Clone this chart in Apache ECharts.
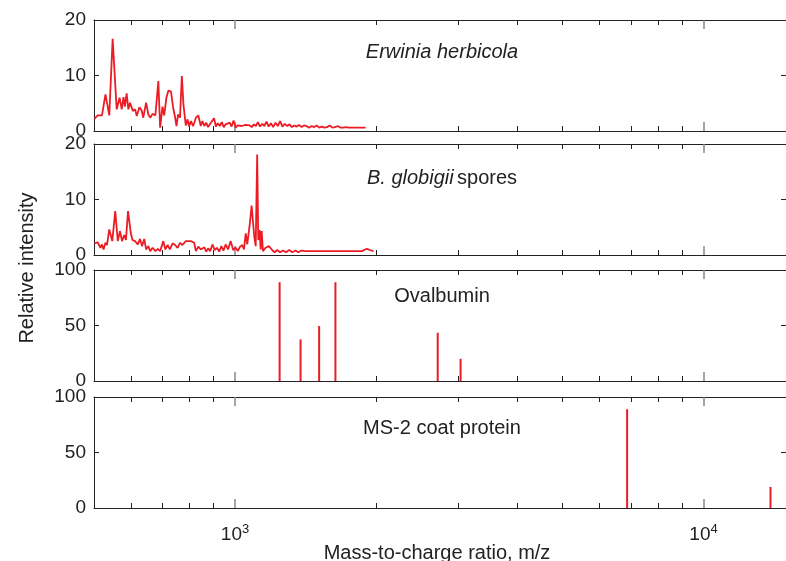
<!DOCTYPE html>
<html><head><meta charset="utf-8">
<script src="https://cdn.jsdelivr.net/npm/echarts@6/dist/echarts.min.js"></script>
<style>html,body{margin:0;padding:0;background:#fff}#c{width:786px;height:561px}</style>
</head><body><div id="c"></div>
<script>
// ---- data ----
const panelTitles = ['Erwinia herbicola', 'B. globigii spores', 'Ovalbumin', 'MS-2 coat protein'];
const yAxisTitle = 'Relative intensity';
const xAxisTitle = 'Mass-to-charge ratio, m/z';

const erwiniaMz = [501,509,520,529,539,548,559,567,573,578,
  582,587,592,597,605,612,617,625,632,637,
  646,653,659,667,676,686,692,700,706,714,
  721,730,738,744,750,756,763,770,776,785,
  792,798,805,814,825,835,845,
  852,860,868,876,885,893,902,910,919,928,
  937,946,955,964,974,983,993,1003,1013,1023,
  1033,1043,1054,1064,1075,1086,1097,1108,1119,1131,
  1143,1155,1167,1180,1193,1206,1220,1234,1248,1262,
  1277,1292,1307,1322,1338,1354,1370,1387,1404,1421,
  1439,1457,1475,1494,1513,1532,1552,1572,1593,1614,
  1635,1657,1680,1703,1726,1750,1775,1800,1825,1850,
  1875,1900];
const erwiniaInt = [2.2,2.8,2.8,6.6,2.8,16.6,3.9,6.0,3.9,6.1,
  4.4,6.8,3.9,5.1,3.6,3.9,2.7,4.3,3.7,2.4,
  5.1,3.0,2.4,3.1,2.8,9.0,0.6,4.4,2.8,6.1,
  7.3,7.1,4.1,2.7,0.9,3.0,2.4,9.9,4.8,1.0,
  2.1,0.8,1.8,0.9,2.4,2.8,0.9,
  1.8,0.9,1.5,0.7,1.3,1.0,2.3,0.8,1.4,0.9,
  1.6,0.7,1.2,0.9,1.5,0.8,1.9,0.6,1.0,0.7,
  0.9,0.6,1.1,0.8,1.0,0.7,1.2,0.9,1.6,0.8,
  1.3,0.9,1.7,0.8,1.4,0.7,1.5,0.9,1.8,0.8,
  1.3,0.9,1.2,0.7,1.0,0.8,1.1,0.7,1.0,0.9,
  0.6,0.9,0.7,1.0,0.6,0.8,0.6,0.7,1.0,0.6,
  0.7,0.9,0.6,0.6,0.7,0.6,0.6,0.6,0.6,0.6,
  0.6,0.6];

const globigiiMz = [501,509,516,520,524,529,533,539,547,555,
  562,568,574,580,585,591,599,604,612,620,
  627,633,640,646,653,659,667,676,684,692,
  703,710,718,726,736,745,754,763,772,785,
  805,818,825,835,845,
  852,860,868,876,885,895,905,915,925,935,
  945,955,966,979,991,1003,1014,1025,1036,1045,
  1054,1062,1076,1085,1092,1099,1107,1115,1121,1129,1134,1140,1147,1162,1181,1200,
  1215,1230,1248,1265,1285,1305,1325,1345,1365,1385,
  1414,1500,1600,1700,1800,1866,1890,1912,1940,1975];
const globigiiInt = [2.1,2.3,1.3,1.9,1.0,2.2,1.8,4.6,2.5,7.9,
  2.5,4.3,2.5,3.6,2.7,7.9,4.0,2.7,2.5,1.9,
  2.9,1.6,2.9,1.0,1.6,0.7,1.3,0.7,1.1,0.7,
  2.5,1.0,1.8,1.0,2.1,1.8,1.3,2.2,1.8,2.5,
  2.5,2.2,0.7,1.5,1.0,
  0.8,1.4,0.6,1.2,0.7,1.9,0.9,1.3,0.6,1.6,
  0.8,1.9,1.0,2.5,0.9,1.3,0.7,1.5,1.8,1.0,
  3.9,1.9,5.8,8.9,6.1,3.4,1.6,18.1,2.7,4.5,1.0,4.3,0.7,1.3,1.6,0.9,
  0.5,0.9,0.5,0.8,0.5,0.9,0.5,0.8,0.5,0.8,
  0.7,0.7,0.7,0.7,0.7,0.7,0.95,1.1,0.9,0.7];

const ovalbuminMz = [1245,1380,1512,1638,2708,3030];
const ovalbuminInt = [89,37.5,49.5,89,43.5,20];

const ms2Mz = [6870,13900];
const ms2Int = [89,19];

const yMaxes = [20,20,100,100];
const yIntervals = [10,10,50,50];
const xMinMz = 500, xMaxMz = 15000;
const minorTickMz = [600,700,800,900,2000,3000,4000,5000,6000,7000,8000,9000];
const majorTickMz = [1000,10000];

// ---- layout ----
const gridTops = [20,144,270,397];
const gridH = 111, gridLeft = 94, gridW = 696;
const RED = '#ec1c24';
const INK = '#222';
const FONT = '"Liberation Sans", Arial, Helvetica, sans-serif';

const L = v => Math.log10(v);
const grids = [], xAxes = [], yAxes = [], series = [];

gridTops.forEach((t, i) => {
  grids.push({left: gridLeft, top: t, width: gridW, height: gridH});
  const base = {gridIndex: i, type: 'value', min: L(xMinMz), max: L(xMaxMz),
    splitLine: {show: false}};
  ['bottom', 'top'].forEach(pos => {
    xAxes.push(Object.assign({}, base, {position: pos,
      axisLine: {show: true, lineStyle: {color: INK, width: 1}},
      axisTick: {show: true, inside: true, length: 5, lineStyle: {color: INK},
        customValues: minorTickMz.map(L)},
      axisLabel: {show: false}}));
    const isLabelAxis = (pos === 'bottom' && i === gridTops.length - 1);
    xAxes.push(Object.assign({}, base, {position: pos,
      axisLine: {show: false},
      axisTick: {show: true, inside: true, length: 9, lineStyle: {color: '#888', width: 1.5},
        customValues: majorTickMz.map(L)},
      axisLabel: isLabelAxis ? {show: true, customValues: majorTickMz.map(L), margin: 11,
        formatter: v => '{b|10}{s|' + Math.round(v) + '}',
        rich: {b: {fontSize: 19, fontFamily: FONT, color: INK, padding: [6,0,0,0]},
               s: {fontSize: 13, fontFamily: FONT, color: INK, padding: [0,0,5,0]}}}
        : {show: false}}));
  });
  ['left', 'right'].forEach(pos => {
    yAxes.push({gridIndex: i, type: 'value', position: pos, min: 0, max: yMaxes[i],
      interval: yIntervals[i], splitLine: {show: false},
      axisLine: {show: true, lineStyle: {color: INK, width: 1}},
      axisTick: {show: true, inside: true, length: 5, lineStyle: {color: INK}},
      axisLabel: pos === 'left' ? {show: true, fontSize: 19, fontFamily: FONT, color: INK, margin: 8}
        : {show: false}});
  });
});

// x axis indices: per grid 4 axes (bottom minor, bottom major, top minor, top major)
function lineSeries(i, mz, val) {
  series.push({type: 'line', xAxisIndex: i * 4, yAxisIndex: i * 2,
    data: mz.map((m, k) => [L(m), val[k]]), symbol: 'none', animation: false,
    lineStyle: {color: RED, width: 1.8}, z: 3});
}
function stickSeries(i, mz, val) {
  mz.forEach((m, k) => {
    series.push({type: 'line', xAxisIndex: i * 4, yAxisIndex: i * 2,
      data: [[L(m), 0], [L(m), val[k]]], symbol: 'none', animation: false,
      lineStyle: {color: RED, width: 2}, z: 3});
  });
}
lineSeries(0, erwiniaMz, erwiniaInt);
lineSeries(1, globigiiMz, globigiiInt);
stickSeries(2, ovalbuminMz, ovalbuminInt);
stickSeries(3, ms2Mz, ms2Int);

const TS = 20;
const titleCenters = [52, 178, 296, 428];
const graphic = [
  {type: 'text', x: 442, y: titleCenters[0], style: {text: '{i|Erwinia herbicola}', align: 'center', verticalAlign: 'middle',
    rich: {i: {fontSize: TS, fontStyle: 'italic', fontFamily: FONT, fill: INK}}}},
  {type: 'text', x: 442, y: titleCenters[1], style: {text: '{i|B. globigii} {n|spores}', align: 'center', verticalAlign: 'middle',
    rich: {i: {fontSize: TS, fontStyle: 'italic', fontFamily: FONT, fill: INK}, n: {fontSize: TS, fontFamily: FONT, fill: INK}}}},
  {type: 'text', x: 442, y: titleCenters[2], style: {text: panelTitles[2], align: 'center', verticalAlign: 'middle',
    fontSize: TS, fontFamily: FONT, fill: INK}},
  {type: 'text', x: 442, y: titleCenters[3], style: {text: panelTitles[3], align: 'center', verticalAlign: 'middle',
    fontSize: TS, fontFamily: FONT, fill: INK}},
  {type: 'text', x: 27, y: 268, rotation: Math.PI / 2, style: {text: yAxisTitle, align: 'center', verticalAlign: 'middle',
    fontSize: TS, fontFamily: FONT, fill: INK}},
  {type: 'text', x: 437, y: 553, style: {text: xAxisTitle, align: 'center', verticalAlign: 'middle',
    fontSize: TS, fontFamily: FONT, fill: INK}}
];

const chart = echarts.init(document.getElementById('c'), null, {renderer: 'canvas'});
chart.setOption({animation: false, grid: grids, xAxis: xAxes, yAxis: yAxes, series: series, graphic: graphic});
</script></body></html>
